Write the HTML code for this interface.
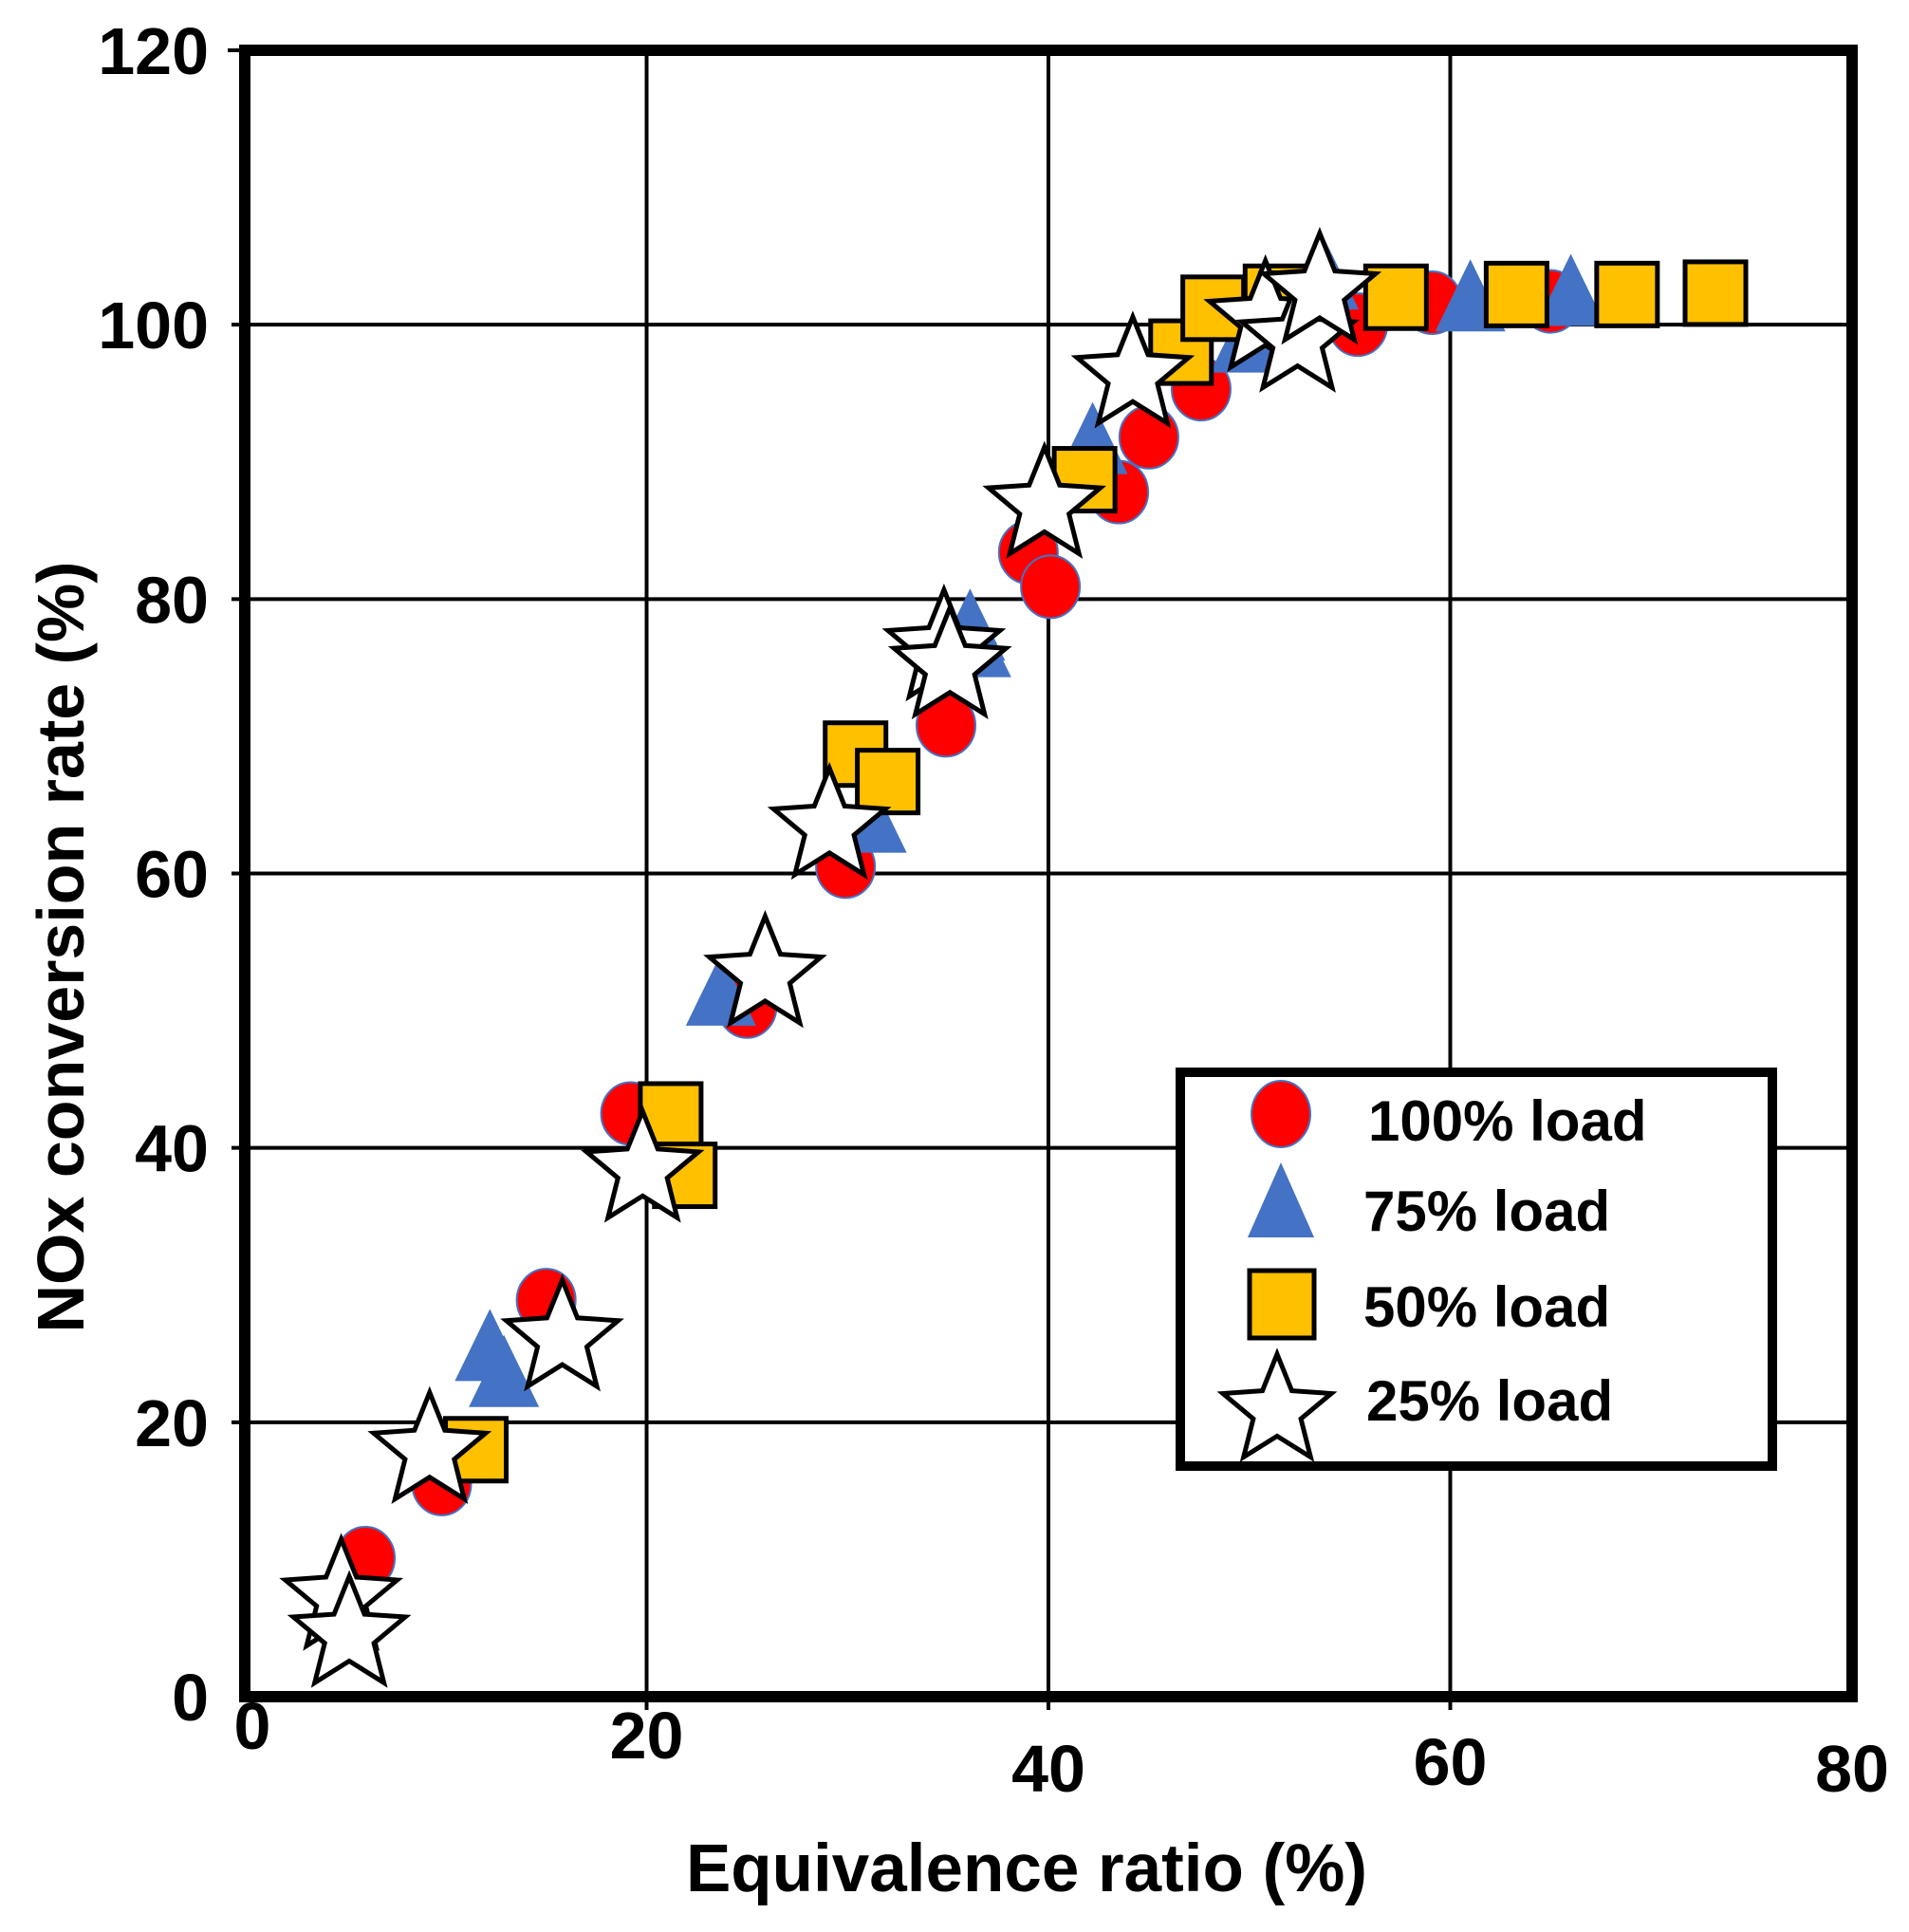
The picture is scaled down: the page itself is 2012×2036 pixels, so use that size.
<!DOCTYPE html>
<html><head><meta charset="utf-8"><style>
html,body{margin:0;padding:0;background:#fff;}
svg{display:block;}
text{font-family:"Liberation Sans",Arial,sans-serif;font-weight:bold;fill:#000;}
</style></head>
<body>
<svg id="chart" width="2012" height="2036" viewBox="0 0 2012 2036" xmlns="http://www.w3.org/2000/svg">
<g id="grid"></g>
<g id="marks"></g>
<rect x="258" y="53" width="1694" height="1735" fill="none" stroke="#000" stroke-width="12"/>
<g id="yticks"></g>
<g id="xticks"></g>
<text x="0" y="0" font-size="70" text-anchor="middle" transform="translate(88,998) rotate(-90)">NOx conversion rate (%)</text>
<text x="1082" y="1993" font-size="71" text-anchor="middle">Equivalence ratio (%)</text>
<g>
  <rect x="1244" y="1130" width="624" height="415" fill="#fff" stroke="#000" stroke-width="10"/>
  <ellipse cx="1350" cy="1174" rx="31" ry="35" fill="#ff0000" stroke="#4472c4" stroke-width="2"/>
  <text x="1442" y="1202" font-size="60">100% load</text>
  <polygon points="1350,1225 1385,1304 1315,1304" fill="#4472c4"/>
  <text x="1437" y="1297" font-size="60">75% load</text>
  <rect x="1317" y="1339" width="68" height="71" fill="#ffc000" stroke="#000" stroke-width="5"/>
  <text x="1437" y="1398" font-size="60">50% load</text>
  <polygon id="legstar" fill="#fff" stroke="#000" stroke-width="5"/>
  <text x="1440" y="1497" font-size="60">25% load</text>
</g>
</svg>
<script>
// Data
const xTicks = [0, 20, 40, 60, 80];
const yTicks = [0, 20, 40, 60, 80, 100, 120];
const load100X = [6.0, 9.8, 15.0, 19.2, 25.0, 29.9, 34.9, 39.0, 40.1, 43.5, 45.0, 47.6, 55.4, 59.1, 65.0];
const load100Y = [10.1, 15.5, 28.9, 42.5, 50.3, 60.5, 70.8, 83.4, 80.9, 87.8, 91.8, 95.3, 100.0, 101.6, 101.7];
const load75X = [12.2, 12.9, 23.7, 31.2, 36.1, 36.4, 42.2, 49.8, 53.7, 61.0, 66.0];
const load75Y = [25.5, 23.6, 51.4, 64.0, 78.0, 76.8, 91.6, 99.0, 103.6, 102.0, 102.4];
const load50X = [11.5, 21.2, 21.9, 30.4, 32.0, 41.8, 46.6, 48.2, 51.3, 52.5, 57.3, 63.3, 68.8, 73.2];
const load50Y = [18.0, 42.4, 38.0, 68.7, 66.7, 88.7, 98.0, 101.2, 102.0, 101.5, 102.0, 102.2, 102.2, 102.3];
const load25X = [4.8, 5.2, 9.2, 15.8, 19.8, 25.9, 29.1, 34.8, 35.1, 39.8, 44.2, 50.8, 52.4, 53.5];
const load25Y = [7.6, 4.9, 18.3, 26.5, 38.8, 53.0, 63.8, 76.8, 75.5, 87.2, 96.7, 100.8, 99.3, 102.8];

const NS = "http://www.w3.org/2000/svg";
const L = 258, R = 1952, T = 53, B = 1788;
function sx(v){ return L + (v - 0) / 80 * (R - L); }
function sy(v){ return B - (v - 0) / 120 * (B - T); }
function mk(tag, attrs, parent){
  const e = document.createElementNS(NS, tag);
  for (const k in attrs) e.setAttribute(k, attrs[k]);
  parent.appendChild(e);
  return e;
}
function starPts(cx, cy, r){
  const ri = r * 0.44; let p = [];
  for (let i = 0; i < 10; i++){
    const a = -Math.PI/2 + i * Math.PI/5;
    const rr = i % 2 ? ri : r;
    p.push((cx + rr*Math.cos(a)).toFixed(1) + "," + (cy + rr*Math.sin(a)).toFixed(1));
  }
  return p.join(" ");
}
const grid = document.getElementById("grid");
xTicks.forEach(t => {
  if (t === 0 || t === 80) return;
  const g = mk("line", {x1: sx(t), x2: sx(t), y1: T, y2: B + 14, stroke: "#000", "stroke-width": 4}, grid);
  
  
});
yTicks.forEach(t => {
  if (t === 0 || t === 120) return;
  const g = mk("line", {x1: L - 14, x2: R, y1: sy(t), y2: sy(t), stroke: "#000", "stroke-width": 4}, grid);
  
  
});
const tk1 = mk("line", {x1: L - 18, x2: L, y1: sy(120), y2: sy(120), stroke: "#000", "stroke-width": 4}, grid);



const yt = document.getElementById("yticks");
yTicks.forEach(t => {
  const e = mk("text", {x: 220, y: sy(t) + 25, "font-size": 70, "text-anchor": "end"}, yt);
  e.textContent = t;
  
  
});
const xt = document.getElementById("xticks");
const xOff = [30, 40, 75, 68, 75];
xTicks.forEach((t, i) => {
  const e = mk("text", {x: sx(t) + (i === 0 ? 8 : 0), y: B + xOff[i] + 25, "font-size": 70, "text-anchor": "middle"}, xt);
  e.textContent = t;
  
  
});

const marks = document.getElementById("marks");
load100X.forEach((x, i) => {
  const e = mk("ellipse", {cx: sx(x), cy: sy(load100Y[i]), rx: 31, ry: 33, fill: "#ff0000", stroke: "#4472c4", "stroke-width": 2}, marks);
  
  
});
load75X.forEach((x, i) => {
  const cx = sx(x), cy = sy(load75Y[i]);
  const e = mk("polygon", {points: `${cx},${cy-40} ${cx+37},${cy+36} ${cx-37},${cy+36}`, fill: "#4472c4"}, marks);
  
  
});
load50X.forEach((x, i) => {
  const e = mk("rect", {x: sx(x) - 32, y: sy(load50Y[i]) - 33, width: 64, height: 66, fill: "#ffc000", stroke: "#000", "stroke-width": 5}, marks);
  
  
});
load25X.forEach((x, i) => {
  const e = mk("polygon", {points: starPts(sx(x), sy(load25Y[i]) + 6, 62), fill: "#fff", stroke: "#000", "stroke-width": 5}, marks);
  
  
});
document.getElementById("legstar").setAttribute("points", starPts(1346, 1487, 60));
</script>
</body></html>
